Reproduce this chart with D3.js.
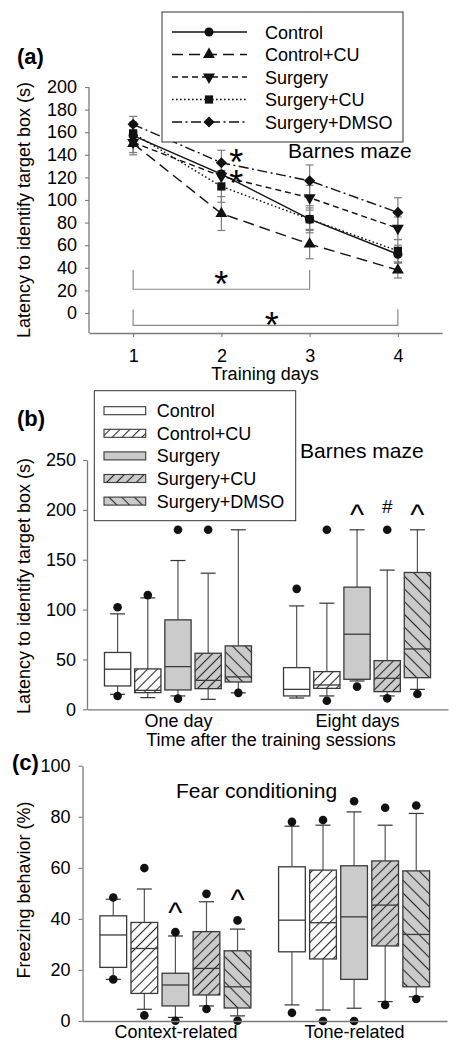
<!DOCTYPE html>
<html><head><meta charset="utf-8">
<script src="https://cdn.jsdelivr.net/npm/d3@7"></script>
<style>body{margin:0;background:#fff} svg{display:block;font-family:"Liberation Sans",Arial,sans-serif}</style>
</head><body><svg id="c" width="457" height="1050"></svg>
<script>
// ---------- Panel (a) data ----------
const days = [1, 2, 3, 4];
const seriesNames = ["Control", "Control+CU", "Surgery", "Surgery+CU", "Surgery+DMSO"];
const controlMean = [157, 123, 83, 52];
const controlCUMean = [150, 88, 61, 38];
const surgeryMean = [151, 121, 102, 75];
const surgeryCUMean = [159, 112, 83, 55];
const surgeryDMSOMean = [167, 133, 117, 89];
const controlErr = [8, 10, 10, 8];
const controlCUErr = [10, 15, 13, 7];
const surgeryErr = [9, 11, 11, 10];
const surgeryCUErr = [10, 14, 12, 10];
const surgeryDMSOErr = [7, 11, 14, 13];
const yTicksA = [0, 20, 40, 60, 80, 100, 120, 140, 160, 180, 200];
const bracketFrom = [1, 1];
const bracketTo = [3, 4];
const bracketLow = [21, -11];
const bracketHigh = [38, 3];
const bracketStarDay = [2.0, 2.57];
const bracketStarVal = [32, -4.5];
const dayStarDay = [2.17, 2.17];
const dayStarVal = [140, 121];

// ---------- Panel (b) data (per group, per series) ----------
const bGroups = ["One day", "Eight days"];
const bWhiskerLow = [[15, 11.7, 13.4, 10, 16.5], [11.3, 13.4, 28.4, 13.4, 20]];
const bQ1 = [[23.4, 16.7, 19.4, 20.7, 27.4], [13.4, 21, 30.1, 17.7, 31.7]];
const bMedian = [[40.2, 19, 42.8, 29, 32.5], [20, 24.4, 75.3, 31.1, 60.5]];
const bQ3 = [[57, 40.5, 89.7, 56.2, 63.6], [41.8, 37.8, 122.5, 48.8, 137.2]];
const bWhiskerHigh = [[95.7, 111.7, 149.2, 136.5, 180], [103.7, 106.4, 180, 139.6, 180]];
const bOutliers = [[[102.4, 13.4], [114.5], [180, 10.7], [180], [16.5]],
                   [[120.8], [180, 8.6], [22.7], [180, 11], [15.4]]];
const bMarks = [["", "", "", "", ""], ["", "", "^", "#", "^"]];
const bMarkVal = [[0, 0, 0, 0, 0], [0, 0, 185, 197, 185]];
const yTicksB = [0, 50, 100, 150, 200, 250];

// ---------- Panel (c) data ----------
const cGroups = ["Context-related", "Tone-related"];
const cWhiskerLow = [[16.3, 4.6, 1.4, 5.9, 2], [6.3, 4.3, 5, 7.6, 9.5]];
const cQ1 = [[21, 10.8, 5.9, 10.2, 5.1], [27.1, 24.3, 16.3, 29.4, 13.4]];
const cMedian = [[33.7, 28.4, 14.1, 20.6, 13.4], [39.5, 38.5, 40.8, 45.4, 33.9]];
const cQ3 = [[41.2, 38.6, 18.7, 35, 27.5], [60.4, 59.1, 60.8, 62.7, 58.8]];
const cWhiskerHigh = [[47.7, 51.7, 33.3, 46.7, 36], [76.3, 76.7, 81.9, 76.7, 81.3]];
const cOutliers = [[[48.4, 16.3], [59.9, 2.2], [34.8, 0.1], [49.8, 4.7], [39.4, 0.1]],
                   [[78, 3.2], [78.7, 0], [86.1, 0], [83.5, 6.3], [84.4, 8.6]]];
const cMarks = [["", "", "^", "", "^"], ["", "", "", "", ""]];
const cMarkVal = [[0, 0, 38.5, 0, 43.5], [0, 0, 0, 0, 0]];
const yTicksC = [0, 20, 40, 60, 80, 100];

const svg = d3.select("#c");
const FONT = 18;
const FAM = "'Liberation Sans', Arial, sans-serif";
const axisCol = "#7a7a7a";

// patterns
const defs = svg.append("defs");
function hatch(id, bg, angle, sp) {
  const p = defs.append("pattern").attr("id", id).attr("patternUnits", "userSpaceOnUse")
    .attr("width", sp).attr("height", sp).attr("patternTransform", `rotate(${angle})`);
  p.append("rect").attr("width", sp).attr("height", sp).attr("fill", bg);
  p.append("line").attr("x1", sp / 2).attr("x2", sp / 2).attr("y1", 0).attr("y2", sp)
    .attr("stroke", "#2a2a2a").attr("stroke-width", 1.1);
}
const GRAY = "#cbcbcb";
hatch("hW", "#fff", 45, 7);
hatch("hG", GRAY, 45, 7);
hatch("hGB", GRAY, -45, 9);
const fills = ["#fff", "url(#hW)", GRAY, "url(#hG)", "url(#hGB)"];

function styleAxis(g) {
  g.attr("font-size", FONT).attr("font-family", FAM);
  g.selectAll("path.domain").attr("stroke", axisCol).attr("stroke-width", 1.3);
  g.selectAll(".tick line").attr("stroke", axisCol).attr("stroke-width", 1.1);
  g.selectAll(".tick text").attr("fill", "#000");
}

// ================= Panel (a) =================
const xA = d3.scaleLinear().domain([0.5, 4.5]).range([89, 442]);
const yA = d3.scaleLinear().domain([-17.7, 200]).range([333, 87]);

svg.append("g").attr("transform", `translate(${xA.range()[0]},0)`)
  .call(d3.axisLeft(yA).tickValues(yTicksA).tickSize(4).tickPadding(8).tickSizeOuter(0))
  .call(styleAxis)
  .call(g => g.select("path.domain").attr("d", `M0,${yA(200)}V${yA.range()[0]}`));
svg.append("g").attr("transform", `translate(0,${yA.range()[0]})`)
  .call(d3.axisBottom(xA).tickValues(days).tickFormat(d3.format("d")).tickSize(4).tickPadding(12).tickSizeOuter(0))
  .call(styleAxis);

const means = [controlMean, controlCUMean, surgeryMean, surgeryCUMean, surgeryDMSOMean];
const errs = [controlErr, controlCUErr, surgeryErr, surgeryCUErr, surgeryDMSOErr];
const dashes = [null, "11,6", "6,4", "1.6,2.4", "10,3.5,2,3.5"];
const symTypes = [d3.symbolCircle, d3.symbolTriangle, d3.symbolTriangle, d3.symbolSquare, d3.symbolSquare];
const symSizes = [66, 62, 62, 68, 62];
const symRot = [0, 0, 180, 0, 45];

// brackets
const gb = svg.append("g").attr("stroke", "#8a8a8a").attr("fill", "none").attr("stroke-width", 1.2);
bracketFrom.forEach((f, i) => {
  const t = bracketTo[i];
  gb.append("path").attr("d",
    `M${xA(f)},${yA(bracketHigh[i])}V${yA(bracketLow[i])}H${xA(t)}V${yA(bracketHigh[i])}`);
  svg.append("text").attr("x", xA(bracketStarDay[i])).attr("y", yA(bracketStarVal[i]) + 20)
    .attr("text-anchor", "middle").attr("font-size", 36).text("*");
});

// error bars
const ge = svg.append("g").attr("stroke", "#7f7f7f").attr("stroke-width", 1.2);
means.forEach((m, s) => {
  m.forEach((v, i) => {
    const x = xA(days[i]), lo = yA(v - errs[s][i]), hi = yA(v + errs[s][i]);
    ge.append("line").attr("x1", x).attr("x2", x).attr("y1", lo).attr("y2", hi);
    ge.append("line").attr("x1", x - 4).attr("x2", x + 4).attr("y1", lo).attr("y2", lo);
    ge.append("line").attr("x1", x - 4).attr("x2", x + 4).attr("y1", hi).attr("y2", hi);
  });
});

// lines
const line = d3.line().x((d, i) => xA(days[i])).y(d => yA(d));
means.forEach((m, s) => {
  svg.append("path").attr("d", line(m)).attr("fill", "none").attr("stroke", "#111")
    .attr("stroke-width", 1.4).attr("stroke-dasharray", dashes[s]);
});
means.forEach((m, s) => {
  m.forEach((v, i) => {
    svg.append("path").attr("d", d3.symbol().type(symTypes[s]).size(symSizes[s])())
      .attr("transform", `translate(${xA(days[i])},${yA(v)}) rotate(${symRot[s]})`).attr("fill", "#111");
  });
});
// the two day-2 asterisks, as one text element with two positioned tspans
const starText = svg.append("text").attr("text-anchor", "middle").attr("font-size", 36);
dayStarDay.forEach((d, i) => {
  starText.append("tspan").attr("x", xA(d)).attr("y", yA(dayStarVal[i]) + 20).text("*");
});

svg.append("text").attr("x", 288).attr("y", 158).attr("font-size", 21).text("Barnes maze");
svg.append("text").attr("x", 265).attr("y", 380).attr("text-anchor", "middle").attr("font-size", FONT).text("Training days");
svg.append("text").attr("transform", "translate(30,210) rotate(-90)").attr("text-anchor", "middle")
  .attr("font-size", FONT).text("Latency to identify target box (s)");
svg.append("text").attr("x", 17).attr("y", 64).attr("font-size", 22).attr("font-weight", "bold").text("(a)");

// legend (a)
const lgA = svg.append("g");
lgA.append("rect").attr("x", 162).attr("y", 12).attr("width", 241).attr("height", 130)
  .attr("fill", "#fff").attr("stroke", "#333").attr("stroke-width", 1);
seriesNames.forEach((n, s) => {
  const yy = 32 + s * 22.5;
  lgA.append("line").attr("x1", 172).attr("x2", 247).attr("y1", yy).attr("y2", yy)
    .attr("stroke", "#111").attr("stroke-width", 1.4).attr("stroke-dasharray", dashes[s]);
  lgA.append("path").attr("d", d3.symbol().type(symTypes[s]).size(symSizes[s])())
    .attr("transform", `translate(209,${yy}) rotate(${symRot[s]})`).attr("fill", "#111");
  lgA.append("text").attr("x", 265).attr("y", yy + 6.5).attr("font-size", FONT).text(n);
});

// ================= Box helper =================
function drawBoxPanel(opt) {
  const { xRange, yScale, groups, wl, q1, med, q3, wh, outs, marks, markVal } = opt;
  const xG = d3.scalePoint().domain(groups).range(xRange).padding(opt.pad);
  const inner = d3.scaleBand().domain(seriesNames).range([-opt.half, opt.half]).paddingInner(opt.pIn).paddingOuter(0);
  const bw = inner.bandwidth();
  const g = svg.append("g");
  groups.forEach((grp, gi) => {
    seriesNames.forEach((sn, si) => {
      const cx = xG(grp) + inner(sn) + bw / 2;
      const wc = "#555";
      g.append("line").attr("x1", cx).attr("x2", cx).attr("y1", yScale(wl[gi][si])).attr("y2", yScale(q1[gi][si])).attr("stroke", wc).attr("stroke-width", 1.2);
      g.append("line").attr("x1", cx).attr("x2", cx).attr("y1", yScale(q3[gi][si])).attr("y2", yScale(wh[gi][si])).attr("stroke", wc).attr("stroke-width", 1.2);
      [wl[gi][si], wh[gi][si]].forEach(v => {
        g.append("line").attr("x1", cx - 7.5).attr("x2", cx + 7.5).attr("y1", yScale(v)).attr("y2", yScale(v)).attr("stroke", "#333").attr("stroke-width", 1.2);
      });
      g.append("rect").attr("x", cx - bw / 2).attr("width", bw)
        .attr("y", yScale(q3[gi][si])).attr("height", yScale(q1[gi][si]) - yScale(q3[gi][si]))
        .attr("fill", fills[si]).attr("stroke", "#3a3a3a").attr("stroke-width", 1.3);
      g.append("line").attr("x1", cx - bw / 2).attr("x2", cx + bw / 2).attr("y1", yScale(med[gi][si])).attr("y2", yScale(med[gi][si]))
        .attr("stroke", "#3a3a3a").attr("stroke-width", 1.3);
      outs[gi][si].forEach(v => {
        g.append("circle").attr("cx", cx).attr("cy", yScale(v)).attr("r", 4.3).attr("fill", "#111");
      });
      const mk = marks[gi][si];
      if (mk) {
        const isCaret = mk === "^";
        g.append("text").attr("x", cx).attr("y", yScale(markVal[gi][si]))
          .attr("text-anchor", "middle").attr("font-size", isCaret ? 30 : 19).text(mk);
      }
    });
  });
  return xG;
}

// ================= Panel (b) =================
const yB = d3.scaleLinear().domain([0, 250]).range([709.3, 460]);
const xbRange = [87, 448];
svg.append("g").attr("transform", `translate(${xbRange[0]},0)`)
  .call(d3.axisLeft(yB).tickValues(yTicksB).tickSize(4).tickPadding(7).tickSizeOuter(0))
  .call(styleAxis);
const xGB = drawBoxPanel({ xRange: xbRange, yScale: yB, groups: bGroups, wl: bWhiskerLow, q1: bQ1, med: bMedian,
  q3: bQ3, wh: bWhiskerHigh, outs: bOutliers, marks: bMarks, markVal: bMarkVal, pad: 0.508, half: 73.5, pIn: 0.13 });
svg.append("g").attr("transform", `translate(0,${yB(0)})`)
  .call(d3.axisBottom(xGB).tickSize(0).tickPadding(5).tickSizeOuter(0))
  .call(styleAxis);
svg.append("text").attr("x", 271).attr("y", 746).attr("text-anchor", "middle").attr("font-size", FONT).text("Time after the training sessions");
svg.append("text").attr("x", 300).attr("y", 458).attr("font-size", 21).text("Barnes maze");
svg.append("text").attr("transform", "translate(30,586) rotate(-90)").attr("text-anchor", "middle")
  .attr("font-size", FONT).text("Latency to identify target box (s)");
svg.append("text").attr("x", 17).attr("y", 426).attr("font-size", 22).attr("font-weight", "bold").text("(b)");

// legend (b)
const lgB = svg.append("g");
lgB.append("rect").attr("x", 94.3).attr("y", 390.7).attr("width", 201.4).attr("height", 130)
  .attr("fill", "#fff").attr("stroke", "#333").attr("stroke-width", 1);
seriesNames.forEach((n, s) => {
  const yy = 410.7 + s * 22.6;
  lgB.append("rect").attr("x", 104).attr("y", yy - 4).attr("width", 41.7).attr("height", 8)
    .attr("fill", fills[s]).attr("stroke", "#3a3a3a").attr("stroke-width", 1.1);
  lgB.append("text").attr("x", 156.7).attr("y", yy + 6.5).attr("font-size", FONT).text(n);
});

// ================= Panel (c) =================
const yC = d3.scaleLinear().domain([0, 100]).range([1021, 765.7]);
const xcRange = [82.5, 447];
svg.append("g").attr("transform", `translate(${xcRange[0]},0)`)
  .call(d3.axisLeft(yC).tickValues(yTicksC).tickSize(4).tickPadding(8).tickSizeOuter(0))
  .call(styleAxis);
const xGC = drawBoxPanel({ xRange: xcRange, yScale: yC, groups: cGroups, wl: cWhiskerLow, q1: cQ1, med: cMedian,
  q3: cQ3, wh: cWhiskerHigh, outs: cOutliers, marks: cMarks, markVal: cMarkVal, pad: 0.52, half: 75.5, pIn: 0.14 });
svg.append("g").attr("transform", `translate(0,${yC(0)})`)
  .call(d3.axisBottom(xGC).tickSize(0).tickPadding(4).tickSizeOuter(0))
  .call(styleAxis);
svg.append("text").attr("x", 176).attr("y", 798).attr("text-anchor", "start").attr("font-size", 21).text("Fear conditioning");
svg.append("text").attr("transform", "translate(30,890) rotate(-90)").attr("text-anchor", "middle")
  .attr("font-size", FONT).text("Freezing behavior (%)");
svg.append("text").attr("x", 12).attr("y", 770).attr("font-size", 22).attr("font-weight", "bold").text("(c)");
</script></body></html>
